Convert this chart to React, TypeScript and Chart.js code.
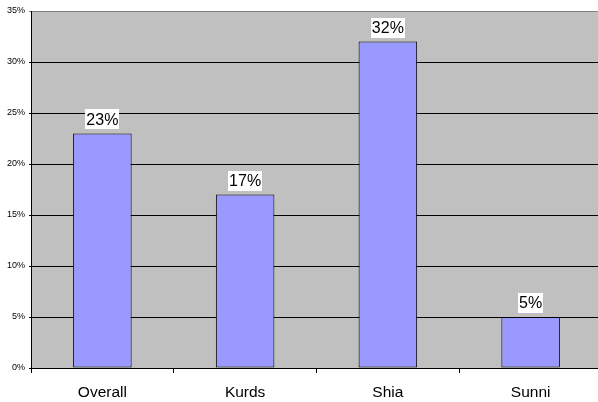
import React, { useEffect, useRef } from "react";
import { Chart, registerables } from "chart.js";

Chart.register(...registerables);

const categories = ["Overall", "Kurds", "Shia", "Sunni"];
const values = [23, 17, 32, 5];
const valueLabels = ["23%", "17%", "32%", "5%"];

const plotBg = {
  id: "plotBg",
  beforeDraw(chart: any) {
    const { ctx, chartArea } = chart;
    ctx.save();
    ctx.fillStyle = "#C0C0C0";
    ctx.fillRect(chartArea.left, chartArea.top, chartArea.right - chartArea.left, chartArea.bottom - chartArea.top);
    ctx.restore();
  },
};

const barLabels = {
  id: "barLabels",
  afterDatasetsDraw(chart: any) {
    const { ctx } = chart;
    const meta = chart.getDatasetMeta(0);
    ctx.save();
    ctx.font = "16px Arial, 'Liberation Sans', sans-serif";
    ctx.textAlign = "center";
    ctx.textBaseline = "middle";
    meta.data.forEach((el: any, i: number) => {
      const text = valueLabels[i];
      const w = ctx.measureText(text).width + 2;
      const h = 20;
      const cx = el.x;
      const bottom = el.y - 4;
      ctx.fillStyle = "#FFFFFF";
      ctx.fillRect(Math.round(cx - w / 2), Math.round(bottom - h), Math.round(w), h);
      ctx.fillStyle = "#000000";
      ctx.fillText(text, cx, bottom - h / 2 + 1);
    });
    ctx.restore();
  },
};

export default function App() {
  const ref = useRef<HTMLCanvasElement>(null);
  useEffect(() => {
    document.body.style.margin = "0";
    document.body.style.overflow = "hidden";
    const chart = new Chart(ref.current!, {
      type: "bar",
      data: {
        labels: categories,
        datasets: [
          {
            data: values,
            backgroundColor: "#9999FF",
            borderColor: "#000000",
            borderWidth: 1,
            borderSkipped: false,
            categoryPercentage: 1,
            barPercentage: 0.41,
          },
        ],
      },
      options: {
        animation: false,
        responsive: false,
        layout: { padding: { top: 11, right: 1, left: 0, bottom: 0 } },
        plugins: { legend: { display: false }, tooltip: { enabled: false } },
        scales: {
          x: {
            offset: true,
            grid: { offset: true, drawOnChartArea: false, drawTicks: true, tickLength: 5, color: "#000000" },
            border: { color: "#000000", width: 1 },
            ticks: {
              color: "#000000",
              font: { family: "Arial, 'Liberation Sans', sans-serif", size: 15.5 },
              padding: 10,
            },
            afterFit(scale: any) {
              scale.height = 34;
            },
          },
          y: {
            min: 0,
            max: 35,
            ticks: {
              stepSize: 5,
              color: "#000000",
              font: { family: "Arial, 'Liberation Sans', sans-serif", size: 9 },
              padding: 4,
              callback: (v: any) => v + "%",
            },
            grid: {
              color: (c: any) => (c.tick && c.tick.value === 35 ? "#808080" : "#000000"),
              tickLength: 2,
            },
            border: { color: "#000000", width: 1 },
            afterFit(scale: any) {
              scale.width = 31;
            },
          },
        },
      },
      plugins: [plotBg, barLabels],
    });
    return () => chart.destroy();
  }, []);
  return (
    <div style={{ position: "absolute", left: 0, top: 0, width: 598, height: 402, overflow: "hidden", background: "#fff" }}>
      <canvas ref={ref} width={603} height={402} style={{ display: "block" }} />
    </div>
  );
}
